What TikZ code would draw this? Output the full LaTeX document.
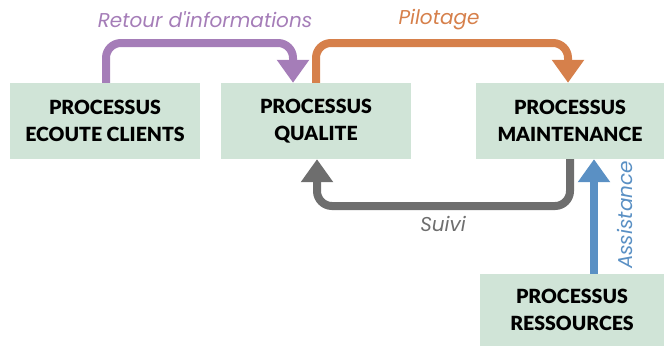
\documentclass[tikz,border=0pt]{standalone}
\usepackage{fontspec}
\setmainfont{Lato}
\newfontfamily\blackfont{Lato Black}
\newfontfamily\labelfont{Poppins}
\usetikzlibrary{arrows.meta}
\definecolor{boxgreen}{HTML}{D0E4D7}
\definecolor{cpurple}{HTML}{A57DB8}
\definecolor{corange}{HTML}{D6804B}
\definecolor{cgray}{HTML}{6E6E6E}
\definecolor{cblue}{HTML}{5A90C4}
\tikzset{
  procbox/.style={fill=boxgreen, draw=none, minimum width=190pt, minimum height=76pt,
    inner sep=0pt, align=center, font=\blackfont\fontsize{19.5}{27}\selectfont},
  flow/.style={line width=8pt, rounded corners=15pt,
    -{Triangle[width=31pt,length=23pt]}},
  lbl/.style={font=\labelfont\itshape\fontsize{20}{22}\selectfont}
}
\begin{document}
\begin{tikzpicture}[x=1pt,y=-1pt]
\useasboundingbox (0,0) rectangle (664,346);
\node[procbox] (ec) at (105,121) {PROCESSUS\\ECOUTE CLIENTS};
\node[procbox] (qu) at (316,121) {PROCESSUS\\QUALITE};
\node[procbox, minimum width=188pt] (ma) at (570,121) {PROCESSUS\\MAINTENANCE};
\node[procbox, minimum width=184pt, minimum height=72pt] (re) at (572,310) {PROCESSUS\\RESSOURCES};
\coordinate (px1) at (106,0);
\coordinate (px2) at (293,0);
\coordinate (ox1) at (316,0);
\coordinate (ox2) at (568,0);
\coordinate (gx1) at (570,0);
\coordinate (gx2) at (317,0);
\coordinate (bx) at (594,0);
\coordinate (topy) at (0,43);
\coordinate (boty) at (0,206);
% purple
\draw[flow, cpurple] (ec.north -| px1) -- (px1 |- topy) -- (px2 |- topy) -- (qu.north -| px2);
% orange
\draw[flow, corange] (qu.north -| ox1) -- (ox1 |- topy) -- (ox2 |- topy) -- (ma.north -| ox2);
% gray
\draw[flow, cgray] (ma.south -| gx1) -- (gx1 |- boty) -- (gx2 |- boty) -- (qu.south -| gx2);
% blue
\draw[flow, cblue] (re.north -| bx) -- (ma.south -| bx);
\node[lbl, text=cpurple] (l1) at (205,20) {Retour d'informations};
\node[lbl, text=corange] (l2) at (439,20) {Pilotage};
\node[lbl, text=cgray] (l3) at (443,224) {Suivi};
\node[lbl, text=cblue, rotate=90] (l4) at (625,215) {Assistance};
\end{tikzpicture}
\end{document}
